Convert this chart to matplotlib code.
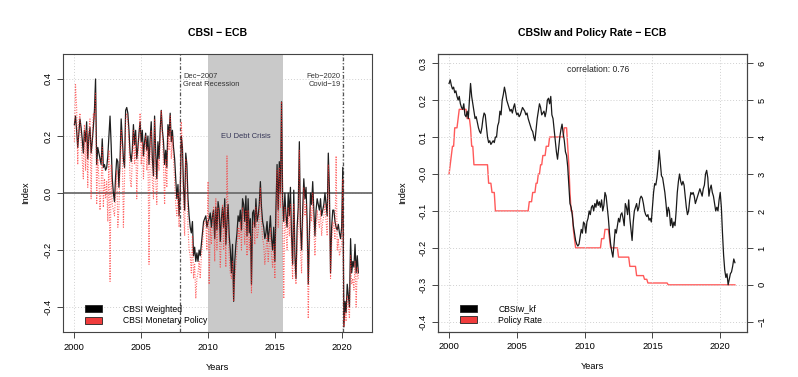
import numpy as np
import matplotlib
matplotlib.use("Agg")
import matplotlib.pyplot as plt
from matplotlib.patches import Patch
from matplotlib.ticker import FormatStrFormatter

plt.rcParams['font.family'] = ['Liberation Sans', 'DejaVu Sans']
plt.rcParams['axes.unicode_minus'] = True

# Left panel: monthly CBSI, Jan 2000 - Apr 2021
cbsi_weighted = [
    0.24, 0.27, 0.22, 0.16, 0.21, 0.26, 0.23, 0.19, 0.14, 0.22, 0.18, 0.25,
    0.12, 0.20, 0.23, 0.14, 0.18, 0.23, 0.29, 0.40, 0.10, 0.16, 0.14, 0.12,
    0.10, 0.19, 0.09, 0.10, 0.08, 0.09, 0.13, 0.20, 0.27, 0.17, 0.05, 0.00,
    -0.03, 0.06, 0.12, 0.11, 0.02, 0.12, 0.26, 0.19, 0.12, 0.09, 0.29, 0.30,
    0.28, 0.22, 0.14, 0.11, 0.15, 0.24, 0.17, 0.22, 0.12, 0.16, 0.21, 0.25,
    0.18, 0.22, 0.13, 0.18, 0.21, 0.15, 0.20, 0.10, 0.19, 0.25, 0.12, 0.06,
    0.27, 0.14, 0.05, 0.18, 0.12, 0.22, 0.29, 0.22, 0.18, 0.10, 0.15, 0.09,
    0.24, 0.20, 0.28, 0.18, 0.22, 0.16, 0.12, 0.05, -0.02, 0.03, -0.08, 0.00,
    0.20, 0.16, 0.02, -0.06, 0.14, 0.10, -0.02, -0.08, -0.12, -0.14, -0.10, -0.22,
    -0.19, -0.24, -0.21, -0.24, -0.20, -0.22, -0.18, -0.14, -0.10, -0.09, -0.08, -0.12,
    -0.10, -0.09, -0.07, -0.12, -0.08, -0.06, -0.16, -0.05, -0.13, -0.03, -0.06, -0.17,
    -0.09, -0.05, -0.12, -0.02, -0.18, -0.10, -0.04, -0.15, -0.20, -0.28, -0.18, -0.38,
    -0.24, -0.18, -0.14, -0.08, -0.10, -0.06, -0.13, -0.02, -0.04, -0.10, -0.01, -0.15,
    -0.02, -0.14, -0.09, -0.32, -0.07, -0.06, -0.12, -0.02, -0.10, -0.08, -0.04, 0.04,
    -0.05, -0.10, -0.12, -0.16, -0.14, -0.10, -0.17, -0.13, -0.08, -0.16, -0.20, -0.12,
    -0.24, -0.05, 0.10, -0.06, 0.11, 0.00, 0.32, -0.02, -0.10, 0.00, -0.08, -0.12,
    0.00, -0.08, 0.02, -0.15, -0.25, 0.01, -0.22, -0.30, -0.12, -0.05, 0.18, -0.12,
    -0.20, -0.06, 0.05, -0.02, 0.02, -0.10, -0.32, -0.14, 0.00, -0.04, 0.04, -0.06,
    -0.15, -0.06, -0.02, -0.04, -0.06, -0.02, -0.08, -0.06, -0.04, 0.00, -0.04, -0.08,
    0.14, 0.01, -0.28, -0.12, -0.06, -0.06, -0.10, -0.12, -0.13, -0.11, -0.14, -0.16,
    -0.12, 0.09, -0.47, -0.38, -0.42, -0.32, -0.36, -0.40, -0.16, -0.28, -0.24, -0.26,
    -0.18, -0.28, -0.22, -0.28,
]
cbsi_monetary = [
    0.18, 0.38, 0.30, 0.10, 0.25, 0.28, 0.18, 0.12, 0.05, 0.24, 0.08, 0.22,
    0.02, 0.22, 0.26, -0.02, 0.20, 0.28, 0.26, 0.35, -0.04, 0.12, 0.05, -0.06,
    0.02, 0.16, -0.05, 0.05, -0.02, 0.04, -0.10, 0.15, -0.31, 0.10, -0.04, -0.06,
    -0.08, 0.00, 0.08, -0.12, -0.05, 0.10, 0.22, 0.15, -0.12, 0.05, 0.26, 0.28,
    0.25, 0.18, 0.05, 0.02, 0.12, 0.22, 0.10, 0.20, -0.02, 0.12, 0.20, 0.28,
    0.10, 0.18, 0.05, 0.15, 0.20, 0.08, 0.16, -0.25, 0.15, 0.22, 0.04, -0.02,
    0.26, 0.05, -0.04, 0.12, 0.08, 0.18, 0.29, 0.20, 0.10, -0.04, 0.12, 0.02,
    0.22, 0.15, 0.27, 0.12, 0.20, 0.12, 0.04, -0.04, -0.08, 0.00, -0.12, 0.02,
    0.25, 0.15, -0.06, -0.15, 0.12, 0.05, -0.12, -0.20, -0.22, -0.28, -0.15, -0.30,
    -0.25, -0.37, -0.30, -0.28, -0.24, -0.30, -0.22, -0.18, -0.12, -0.10, -0.10, -0.20,
    0.04, -0.32, -0.12, -0.18, -0.10, -0.05, -0.24, -0.02, -0.20, -0.05, -0.12, -0.26,
    -0.15, -0.04, -0.20, -0.05, -0.26, 0.13, -0.10, -0.22, -0.28, -0.30, -0.24, -0.38,
    -0.30, -0.25, -0.20, -0.12, -0.16, -0.10, -0.20, -0.05, -0.10, -0.18, -0.06, -0.22,
    -0.06, -0.20, -0.15, -0.35, -0.12, -0.10, -0.18, -0.05, -0.16, -0.14, -0.08, 0.02,
    -0.10, -0.16, -0.18, -0.25, -0.20, -0.15, -0.24, -0.18, -0.12, -0.22, -0.26, -0.18,
    -0.30, -0.10, 0.08, -0.12, 0.09, -0.05, 0.32, -0.08, -0.37, -0.05, -0.14, -0.20,
    -0.05, -0.15, -0.04, -0.22, -0.30, -0.04, -0.28, -0.32, -0.18, -0.12, 0.15, -0.20,
    -0.28, -0.12, 0.02, -0.08, -0.04, -0.16, -0.44, -0.20, -0.05, -0.10, 0.00, -0.12,
    -0.22, -0.12, -0.06, -0.10, -0.12, -0.06, -0.15, -0.10, -0.08, -0.04, -0.10, -0.15,
    0.10, -0.05, -0.30, -0.18, -0.10, -0.12, -0.16, 0.13, -0.20, -0.16, -0.22, -0.20,
    -0.18, 0.05, -0.47, -0.42, -0.45, -0.36, -0.40, -0.44, -0.22, -0.32, -0.30, -0.34,
    -0.24, -0.40, -0.26, -0.30,
]

# Right panel: monthly CBSIw_kf and ECB policy rate, Jan 2000 - Feb 2021
cbsiw_kf = [
    0.245, 0.255, 0.24, 0.23, 0.235, 0.22, 0.225, 0.21, 0.20, 0.21, 0.19, 0.18,
    0.175, 0.19, 0.16, 0.155, 0.17, 0.15, 0.20, 0.245, 0.21, 0.19, 0.17, 0.15,
    0.155, 0.14, 0.125, 0.115, 0.11, 0.125, 0.15, 0.165, 0.16, 0.13, 0.10, 0.085,
    0.09, 0.08, 0.085, 0.09, 0.085, 0.10, 0.10, 0.13, 0.14, 0.17, 0.16, 0.20,
    0.215, 0.235, 0.22, 0.20, 0.19, 0.18, 0.17, 0.175, 0.165, 0.18, 0.19, 0.17,
    0.16, 0.165, 0.155, 0.16, 0.17, 0.18, 0.175, 0.17, 0.16, 0.165, 0.15, 0.14,
    0.13, 0.12, 0.115, 0.10, 0.09, 0.12, 0.15, 0.17, 0.19, 0.18, 0.16, 0.165,
    0.17, 0.155, 0.17, 0.20, 0.205, 0.19, 0.21, 0.16, 0.15, 0.12, 0.09, 0.06,
    0.04, 0.07, 0.10, 0.12, 0.135, 0.11, 0.09, 0.06, 0.05, 0.02, -0.03, -0.08,
    -0.09, -0.11, -0.14, -0.16, -0.18, -0.19, -0.195, -0.19, -0.17, -0.15, -0.16, -0.13,
    -0.135, -0.16, -0.13, -0.12, -0.10, -0.11, -0.09, -0.085, -0.10, -0.08, -0.09, -0.07,
    -0.085, -0.075, -0.09, -0.07, -0.10, -0.085, -0.05, -0.06, -0.09, -0.12, -0.16, -0.19,
    -0.21, -0.225, -0.19, -0.15, -0.16, -0.14, -0.12, -0.13, -0.11, -0.105, -0.12, -0.14,
    -0.08, -0.09, -0.11, -0.07, -0.12, -0.15, -0.18, -0.13, -0.10, -0.09, -0.08, -0.10,
    -0.09, -0.067, -0.06, -0.065, -0.08, -0.10, -0.11, -0.115, -0.11, -0.125, -0.12, -0.13,
    -0.09, -0.05, -0.026, -0.03, -0.01, 0.02, 0.064, 0.03, -0.005, -0.01, -0.03, -0.05,
    -0.08, -0.115, -0.09, -0.10, -0.14, -0.12, -0.145, -0.13, -0.14, -0.10, -0.05, -0.02,
    0.0, -0.02, -0.03, -0.02, -0.03, -0.06, -0.09, -0.11, -0.10, -0.07, -0.05, -0.055,
    -0.05, -0.06, -0.08, -0.07, -0.06, -0.05, -0.04, -0.05, -0.06, -0.04, -0.03, 0.0,
    0.01, -0.01, -0.06, -0.04, -0.03, -0.05, -0.06, -0.08, -0.10, -0.09, -0.10, -0.07,
    -0.05, -0.09, -0.16, -0.22, -0.26, -0.28, -0.27, -0.30, -0.285, -0.27, -0.265, -0.25,
    -0.23, -0.24,
]
policy_rate = (
    [3.0, 3.25, 3.5, 3.75, 3.75, 4.25, 4.25, 4.25, 4.5, 4.75, 4.75, 4.75]
    + [4.75, 4.75, 4.75, 4.75, 4.5, 4.5, 4.5, 4.25, 3.75, 3.75, 3.25, 3.25]
    + [3.25] * 11 + [2.75]
    + [2.75, 2.75, 2.5, 2.5, 2.5] + [2.0] * 7
    + [2.0] * 12
    + [2.0] * 11 + [2.25]
    + [2.25, 2.25, 2.5, 2.5, 2.5, 2.75, 2.75, 3.0, 3.0, 3.25, 3.25, 3.5]
    + [3.5, 3.5, 3.75, 3.75, 3.75] + [4.0] * 7
    + [4.0] * 6 + [4.25, 4.25, 4.25, 3.75, 3.25, 2.5]
    + [2.0, 2.0, 1.5, 1.25] + [1.0] * 8
    + [1.0] * 12
    + [1.0, 1.0, 1.0, 1.25, 1.25, 1.25, 1.5, 1.5, 1.5, 1.5, 1.25, 1.0]
    + [1.0] * 6 + [0.75] * 6
    + [0.75] * 4 + [0.5] * 6 + [0.25] * 2
    + [0.25] * 5 + [0.15] * 3 + [0.05] * 4
    + [0.05] * 12
    + [0.05, 0.05] + [0.0] * 10
    + [0.0] * 48
    + [0.0, 0.0]
)

years_left = 2000 + np.arange(len(cbsi_weighted)) / 12
years_right = 2000 + np.arange(len(cbsiw_kf)) / 12

red = '#f03c3c'
grid_kw = dict(color='#d0d0d0', linestyle=(0, (1, 2)), linewidth=0.7)
tick_fs = 6.7
note_fs = 5.4

fig = plt.figure(figsize=(7.98, 3.77), dpi=100)

# ---------- Left: CBSI - ECB ----------
ax1 = fig.add_axes([0.079, 0.119, 0.387, 0.738])
ax1.set_xlim(1999.15, 2022.26)
ax1.set_ylim(-0.488, 0.488)
for x in range(2000, 2025, 5):
    ax1.axvline(x, zorder=0, **grid_kw)
for y in np.arange(-0.4, 0.41, 0.2):
    ax1.axhline(y, zorder=0, **grid_kw)
ax1.axvspan(2010.0, 2015.6, color='#c9c9c9', zorder=1, lw=0)
ax1.axhline(0, color='#6e6e6e', lw=1.3, zorder=2)
ax1.axvline(2007.93, color='#555555', lw=0.9, ls=(0, (3, 1.5, 1, 1.5)), zorder=2)
ax1.axvline(2020.13, color='#555555', lw=0.9, ls=(0, (3, 1.5, 1, 1.5)), zorder=2)
ax1.plot(years_left, cbsi_weighted, color='#1e1e1e', lw=0.9, zorder=3)
ax1.plot(years_left, cbsi_monetary, color='#ff2a2a', lw=0.8, ls=(0, (1, 1.3)),
         alpha=0.7, zorder=4)
ax1.text(2008.13, 0.395, 'Dec\u22122007\nGreat Recession', ha='left', va='center',
         fontsize=note_fs, color='#333333', linespacing=1.15, zorder=5)
ax1.text(2019.93, 0.395, 'Feb\u22122020\nCovid\u221219', ha='right', va='center',
         fontsize=note_fs, color='#333333', linespacing=1.15, zorder=5)
ax1.text(2012.85, 0.2, 'EU Debt Crisis', ha='center', va='center', fontsize=note_fs,
         color='#333355', zorder=5)
ax1.set_xticks([2000, 2005, 2010, 2015, 2020])
ax1.set_yticks([-0.4, -0.2, 0.0, 0.2, 0.4])
ax1.yaxis.set_major_formatter(FormatStrFormatter('%.1f'))
ax1.set_title('CBSI \u2212 ECB', fontsize=7.6, fontweight='bold', pad=13)
ax1.set_xlabel('Years', fontsize=tick_fs, labelpad=8)
ax1.set_ylabel('Index', fontsize=tick_fs, labelpad=10)
leg1 = ax1.legend(handles=[Patch(facecolor='black', edgecolor='#222222', lw=0.6),
                           Patch(facecolor=red, edgecolor='#222222', lw=0.6)],
                  labels=['CBSI Weighted', 'CBSI Monetary Policy'],
                  loc='lower left', bbox_to_anchor=(0.07, 0.025), frameon=False,
                  fontsize=6.2, handlelength=2.0, handleheight=0.85,
                  handletextpad=2.5, labelspacing=0.3, borderpad=0, borderaxespad=0)
leg1.set_zorder(6)

# ---------- Right: CBSIw and Policy Rate - ECB ----------
ax2 = fig.add_axes([0.549, 0.12, 0.387, 0.737])
ax2.set_xlim(1999.19, 2021.97)
ax2.set_ylim(-0.427, 0.325)
for x in range(2000, 2025, 5):
    ax2.axvline(x, zorder=0, **grid_kw)
for y in np.arange(-0.4, 0.31, 0.1):
    ax2.axhline(y, zorder=0, **grid_kw)
ax3 = ax2.twinx()
ax3.set_ylim(-1.27, 6.25)
ax3.plot(years_right, policy_rate, color='#ff5a5a', lw=1.0)
ax2.plot(years_right, cbsiw_kf, color='#1a1a1a', lw=0.9, zorder=3)
ax2.set_zorder(ax3.get_zorder() + 1)
ax2.patch.set_visible(False)
ax2.text(2011.0, 0.284, 'correlation: 0.76', ha='center', va='center', fontsize=6.2,
         color='#222222')
ax2.set_xticks([2000, 2005, 2010, 2015, 2020])
ax2.set_yticks(np.round(np.arange(-0.4, 0.31, 0.1), 1))
ax2.yaxis.set_major_formatter(FormatStrFormatter('%.1f'))
ax3.set_yticks(range(-1, 7))
ax2.set_title('CBSIw and Policy Rate \u2212 ECB', fontsize=7.6, fontweight='bold', pad=13)
ax2.set_xlabel('Years', fontsize=tick_fs, labelpad=8)
ax2.set_ylabel('Index', fontsize=tick_fs, labelpad=8.5)
ax2.legend(handles=[Patch(facecolor='black', edgecolor='#222222', lw=0.6),
                    Patch(facecolor=red, edgecolor='#222222', lw=0.6)],
           labels=['CBSIw_kf', 'Policy Rate'],
           loc='lower left', bbox_to_anchor=(0.07, 0.025), frameon=False,
           fontsize=6.2, handlelength=2.0, handleheight=0.85,
           handletextpad=2.5, labelspacing=0.3, borderpad=0, borderaxespad=0)

for ax in (ax1, ax2, ax3):
    for s in ax.spines.values():
        s.set_color('#444444')
        s.set_linewidth(0.8)
    ax.tick_params(labelsize=tick_fs, length=4, width=0.7, color='#444444', pad=3.5)
for ax in (ax1, ax2, ax3):
    for lab in ax.get_yticklabels():
        lab.set_rotation(90)
        lab.set_va('center')

fig.savefig('out.png', dpi=100)
